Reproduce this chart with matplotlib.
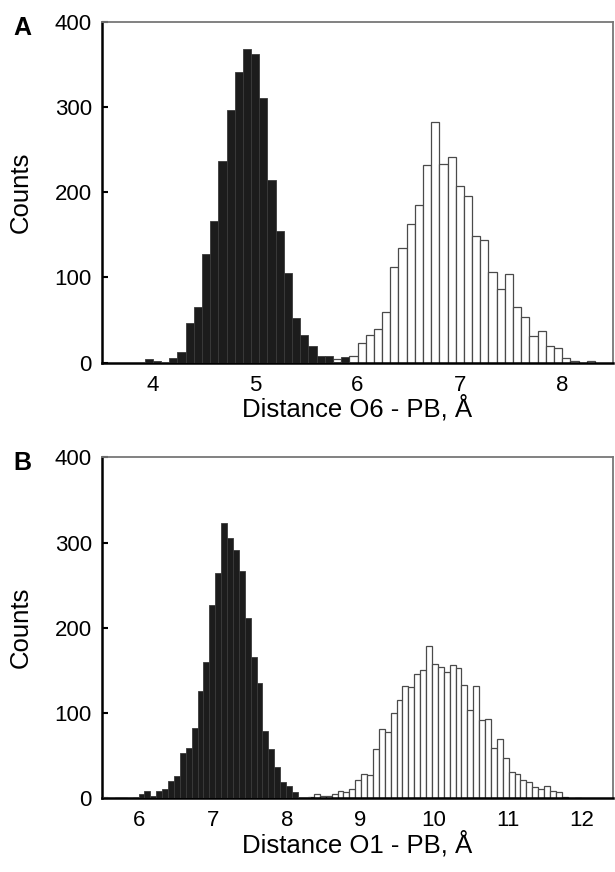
"""Distance histograms O6-PB and O1-PB (two stacked panels) -> out.png"""
import numpy as np
import matplotlib
matplotlib.use("Agg")
import matplotlib.pyplot as plt

plt.rcParams.update({"font.family": ["Liberation Sans", "DejaVu Sans"], "font.size": 15})

BIN = 0.08

# panel A: O6 - PB, counts per 0.08 A bin
a_black_start = 3.92
a_black = [4, 2, 0, 6, 13, 46, 65, 127, 166, 237, 296, 341, 368, 362, 310, 214,
           154, 105, 52, 33, 20, 8, 8, 0, 7]
a_white_start = 5.68
a_white = [2, 4, 2, 8, 23, 32, 40, 60, 112, 134, 163, 185, 232, 282, 233, 241,
           207, 196, 149, 144, 106, 87, 104, 65, 54, 31, 37, 20, 17, 6, 2, 0, 2]

# panel B: O1 - PB
b_black_start = 5.51
b_black = [1, 0, 1, 1, 0, 2, 5, 9, 3, 8, 11, 20, 26, 53, 59, 82, 126, 160, 227,
           264, 323, 305, 291, 267, 211, 166, 135, 79, 58, 37, 19, 14, 7, 2, 1]
b_black_tail_edge, b_black_tail_count = 11.91, 2
b_white_start = 8.29
b_white = [1, 5, 3, 3, 5, 8, 7, 11, 22, 29, 27, 58, 81, 78, 100, 115, 132, 131,
           146, 150, 179, 157, 154, 148, 156, 153, 133, 104, 132, 92, 93, 59, 70,
           47, 31, 29, 21, 19, 13, 11, 14, 8, 7, 2]

W, H = 615, 872
fig = plt.figure(figsize=(W / 100, H / 100), dpi=100)
axA = fig.add_axes([101.7 / W, 1 - 362.7 / H, 511.6 / W, 341 / H])
axB = fig.add_axes([101.7 / W, 1 - 798.3 / H, 511.6 / W, 341 / H])


def edges(start, n):
    return start + BIN * np.arange(n)


def hist_pair(ax, ws, wc, bs, bc):
    ax.bar(edges(ws, len(wc)), wc, width=BIN, align="edge", color="white",
           edgecolor="#4a4a4a", lw=0.9, zorder=2)
    ax.bar(edges(bs, len(bc)), bc, width=BIN, align="edge", color="#1c1c1c",
           edgecolor="#3a3a3a", lw=0.6, zorder=3)


def style(ax, xlim, xticks, xlabel, letter):
    ax.set_xlim(*xlim); ax.set_ylim(0, 400)
    ax.set_xticks(xticks); ax.set_yticks([0, 100, 200, 300, 400])
    ax.tick_params(axis="y", direction="in", length=4, width=1.5, pad=7, labelsize=16)
    ax.tick_params(axis="x", length=0, pad=8.5, labelsize=16)
    for s in ("left", "bottom"):
        ax.spines[s].set_linewidth(1.8); ax.spines[s].set_color("black")
    for s in ("top", "right"):
        ax.spines[s].set_linewidth(1.3); ax.spines[s].set_color("#777777")
    ax.set_ylabel("Counts", fontsize=18.5)
    ax.yaxis.set_label_coords(-0.158, 0.5)
    ax.yaxis.label.set_va("center")
    ax.set_xlabel(xlabel, fontsize=18.5)
    ax.xaxis.set_label_coords(0.5, -0.135)
    ax.xaxis.label.set_va("center")
    ax.text(-0.172, 0.982, letter, transform=ax.transAxes, fontsize=18,
            fontweight="bold", ha="left", va="center")


hist_pair(axA, a_white_start, a_white, a_black_start, a_black)
style(axA, (3.5, 8.5), [4, 5, 6, 7, 8], "Distance O6 - PB, Å", "A")

hist_pair(axB, b_white_start, b_white, b_black_start, b_black)
axB.bar([b_black_tail_edge], [b_black_tail_count], width=BIN, align="edge",
        color="#1c1c1c", edgecolor="#3a3a3a", lw=0.6, zorder=3)
style(axB, (5.49, 12.43), [6, 7, 8, 9, 10, 11, 12], "Distance O1 - PB, Å", "B")

fig.savefig("out.png", dpi=100)
